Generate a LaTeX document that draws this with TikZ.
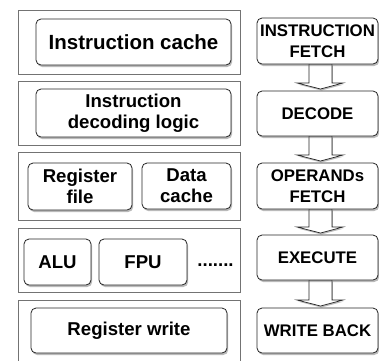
\documentclass[tikz,border=0pt]{standalone}
\usepackage{fontspec}
\setmainfont{Liberation Sans}
\usetikzlibrary{shadows}
\begin{document}
\begin{tikzpicture}[x=1pt,y=-1pt,
  outer/.style={draw=black!55,line width=0.8pt,fill=white,inner sep=0pt},
  ibox/.style={draw=black!85,line width=0.8pt,fill=white,rounded corners=5pt,
    align=center,inner sep=0pt,font=\bfseries\fontsize{18.6}{21}\selectfont,
    drop shadow={shadow xshift=1.2pt,shadow yshift=-2pt,opacity=0.45,fill=black!60}},
  bigbox/.style={ibox,font=\bfseries\fontsize{20.5}{23}\selectfont},
  sbox/.style={ibox,font=\bfseries\fontsize{16.8}{21}\selectfont,
    minimum width=121pt,minimum height=46pt},
  barrow/.style={draw=black!85,line width=0.7pt,fill=white,line join=miter,
    drop shadow={shadow xshift=0.8pt,shadow yshift=-1.5pt,opacity=0.45,fill=black!60}}]
\useasboundingbox (0,0) rectangle (379,360);
\fill[white] (0,0) rectangle (379,360);
% outer frames
\node[outer,minimum width=222pt,minimum height=64pt] (r1) at (129,42) {};
\node[outer,minimum width=222pt,minimum height=64pt] (r2) at (129,113) {};
\node[outer,minimum width=222pt,minimum height=68pt] (r3) at (129,186) {};
\node[outer,minimum width=222pt,minimum height=64pt] (r4) at (129,260) {};
\node[outer,minimum width=222pt,minimum height=72pt] (r5) at (129,336) {};
% inner boxes
\node[bigbox,minimum width=195pt,minimum height=46pt] (ic) at (133.5,42) {Instruction cache};
\node[ibox,minimum width=195pt,minimum height=48pt] (idl) at (133.5,113) {Instruction\\decoding logic};
\node[ibox,minimum width=104pt,minimum height=47pt] (rf) at (80,186.5) {Register\\file};
\node[ibox,minimum width=89pt,minimum height=46pt] (dc) at (186.5,186) {Data\\cache};
\node[ibox,minimum width=67pt,minimum height=46pt] (alu) at (57.5,262) {ALU};
\node[ibox,minimum width=88pt,minimum height=46pt] (fpu) at (143,262) {FPU};
\node[inner sep=0pt,font=\bfseries\fontsize{18.6}{21}\selectfont] (dots) at (215.5,265) {.......};
\node[ibox,minimum width=196pt,minimum height=45pt] (rw) at (129,330.5) {Register write};
% arrows (behind stage boxes)
\foreach \a/\b in {64/91,136/163,209/235,280/308}{
  \draw[barrow] (309,\a) -- (309,\b-8) -- (297,\b-8) -- (320.5,\b-2) -- (343,\b-8)
     -- (332,\b-8) -- (332,\a) -- cycle;
}
% stage boxes
\node[sbox] (if) at (317.5,41) {INSTRUCTION\\FETCH};
\node[sbox,minimum height=45pt] (dec) at (317.5,113.5) {DECODE};
\node[sbox] (of) at (317.5,186) {OPERANDs\\FETCH};
\node[sbox,minimum height=45pt] (ex) at (317.5,257.5) {EXECUTE};
\node[sbox,minimum height=45pt] (wb) at (317.5,330.5) {WRITE BACK};
\end{tikzpicture}
\end{document}
